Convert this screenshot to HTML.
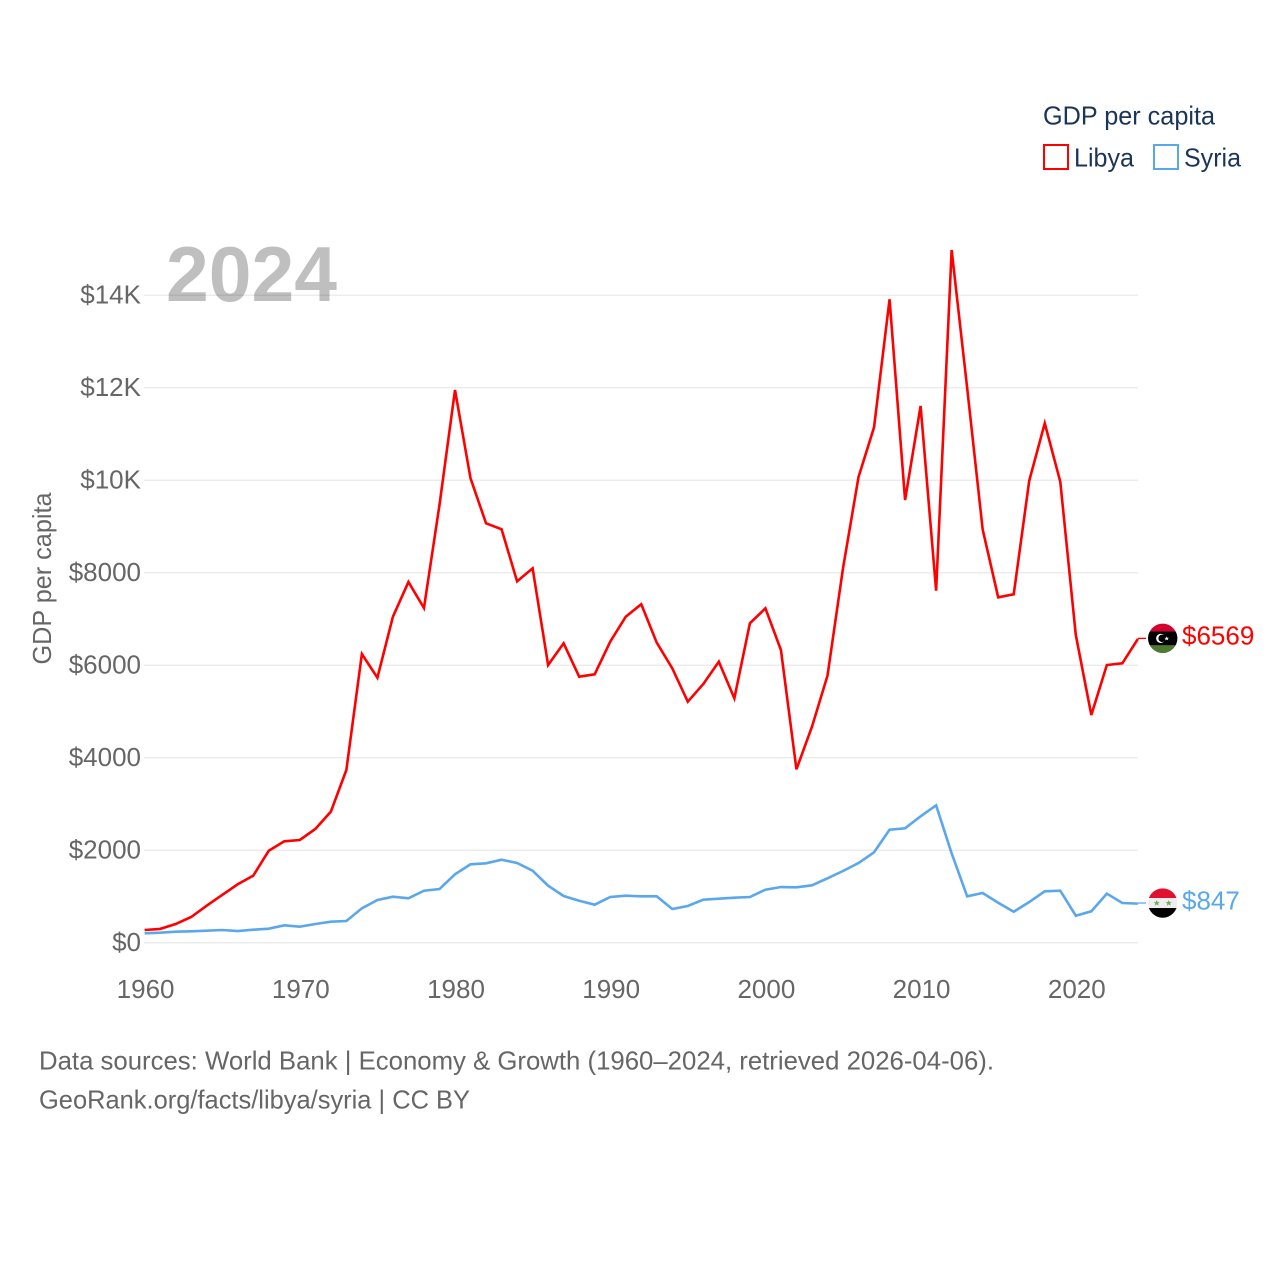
<!DOCTYPE html>
<html lang="en">
<head>
<meta charset="utf-8">
<title>GDP per capita: Libya and Syria</title>
<style>
  html, body { margin: 0; padding: 0; background: #fff; }
  svg { display: block; }
  text { font-family: "Liberation Sans", "DejaVu Sans", sans-serif; }
</style>
</head>
<body>
<svg id="chart" xmlns="http://www.w3.org/2000/svg" width="1280" height="1280" viewBox="0 0 1280 1280">
  <defs>
    <clipPath id="flag-clip"><circle cx="0" cy="0" r="14.7"></circle></clipPath>
  </defs>
  <rect x="0" y="0" width="1280" height="1280" fill="#ffffff"></rect>
  <g id="grid"></g>
  <text x="166" y="301" font-size="78" font-weight="700" fill="#000000" fill-opacity="0.25" textLength="171" lengthAdjust="spacingAndGlyphs">2024</text>
  <g id="y-labels"></g>
  <g id="x-labels"></g>
  <text transform="translate(51,578.5) rotate(-90)" text-anchor="middle" font-size="26" fill="#666666" textLength="172" lengthAdjust="spacingAndGlyphs">GDP per capita</text>
  <g id="series"></g>
  <g id="end-labels"></g>

  <g>
    <text x="1043" y="124.5" font-size="26" fill="#1a3557" textLength="172" lengthAdjust="spacingAndGlyphs">GDP per capita</text>
    <g>
      <rect x="1044" y="145" width="24" height="24" fill="#ffffff" stroke="#ff0000" stroke-width="2"></rect>
      <text x="1074" y="166.5" font-size="26" fill="#1a3557" textLength="60" lengthAdjust="spacingAndGlyphs">Libya</text>
    </g>
    <g>
      <rect x="1154" y="145" width="24" height="24" fill="#ffffff" stroke="#5ba7ec" stroke-width="2"></rect>
      <text x="1184" y="166.5" font-size="26" fill="#1a3557" textLength="57" lengthAdjust="spacingAndGlyphs">Syria</text>
    </g>
  </g>

  <text x="39" y="1069.5" font-size="26" fill="#666666" textLength="955" lengthAdjust="spacingAndGlyphs">Data sources: World Bank | Economy &amp; Growth (1960–2024, retrieved 2026-04-06).</text>
  <text x="39" y="1108.5" font-size="26" fill="#666666" textLength="431" lengthAdjust="spacingAndGlyphs">GeoRank.org/facts/libya/syria | CC BY</text>
</svg>

<script>
const startYear = 1960;
const yTickValues = [0, 2000, 4000, 6000, 8000, 10000, 12000, 14000];
const yTickLabels = ["$0", "$2000", "$4000", "$6000", "$8000", "$10K", "$12K", "$14K"];
const xTickYears = [1960, 1970, 1980, 1990, 2000, 2010, 2020];
const libyaValues = [
  277, 300, 406, 558, 802, 1034, 1265, 1451, 1991, 2195,
  2223, 2461, 2835, 3736, 6244, 5732, 7051, 7801, 7239, 9466,
  11952, 10043, 9070, 8941, 7816, 8097, 6006, 6476, 5754, 5805,
  6510, 7051, 7321, 6489, 5935, 5213, 5596, 6078, 5286, 6908,
  7232, 6331, 3751, 4672, 5775, 8097, 10071, 11146, 13914, 9574,
  11606, 7613, 14980, 11996, 8936, 7470, 7535, 9992, 11232, 9970,
  6655, 4925, 6006, 6043, 6569
];
const syriaValues = [
  205, 218, 240, 249, 262, 277, 255, 283, 305, 378,
  348, 406, 456, 471, 746, 925, 997, 962, 1126, 1163,
  1481, 1697, 1719, 1797, 1725, 1559, 1235, 1012, 910, 824,
  990, 1018, 1005, 1005, 731, 796, 932, 954, 975, 990,
  1148, 1206, 1200, 1243, 1395, 1552, 1725, 1957, 2445, 2476,
  2735, 2973, 1935, 1005, 1077, 867, 672, 882, 1114, 1127,
  586, 681, 1062, 860, 847
];

const NS = "http://www.w3.org/2000/svg";
const xScale = function (year) { return 144.6 + (year - startYear) * 15.52; };
const yScale = function (value) { return 942.8 - value * 0.04625; };

function svgEl(tag, attrs, parent) {
  const el = document.createElementNS(NS, tag);
  Object.keys(attrs).forEach(function (k) { el.setAttribute(k, attrs[k]); });
  parent.appendChild(el);
  return el;
}

const gridGroup = document.getElementById("grid");
const yLabelGroup = document.getElementById("y-labels");
const xLabelGroup = document.getElementById("x-labels");
const seriesGroup = document.getElementById("series");
const endGroup = document.getElementById("end-labels");

yTickValues.forEach(function (value, i) {
  const line = svgEl("line", { x1: 144, x2: 1138, y1: yScale(value), y2: yScale(value), stroke: "#ececec", "stroke-width": 1.5 }, gridGroup);
  
  
  const label = svgEl("text", { x: 141, y: yScale(value) + 8.1, "text-anchor": "end", "font-size": 26, fill: "#666666" }, yLabelGroup);
  label.textContent = yTickLabels[i];
  
  
});

xTickYears.forEach(function (year) {
  const label = svgEl("text", { x: xScale(year) + 1, y: 998, "text-anchor": "middle", "font-size": 26, fill: "#666666" }, xLabelGroup);
  label.textContent = String(year);
  
  
});

function toPoints(values) {
  return values.map(function (v, i) {
    return xScale(startYear + i).toFixed(2) + "," + yScale(v).toFixed(2);
  }).join(" ");
}

const syriaLine = svgEl("polyline", { points: toPoints(syriaValues), fill: "none", stroke: "#5ba7ec", "stroke-width": 2.6, "stroke-linejoin": "miter" }, seriesGroup);



const libyaLine = svgEl("polyline", { points: toPoints(libyaValues), fill: "none", stroke: "#ff0000", "stroke-width": 2.6, "stroke-linejoin": "miter" }, seriesGroup);



function band(parent, y, h, color) {
  return svgEl("rect", { x: -15, y: y, width: 30, height: h, fill: color }, parent);
}

function drawEnd(values, color) {
  const last = values[values.length - 1];
  const ly = yScale(last) - 0.6;
  const lx = xScale(startYear + values.length - 1);
  const connector = svgEl("line", { x1: lx, x2: 1146, y1: ly, y2: ly, stroke: color, "stroke-width": 1.3 }, endGroup);
  
  
  const label = svgEl("text", { x: 1182, y: ly + 6.3, "font-size": 26, fill: color }, endGroup);
  label.textContent = "$" + last;
  
  
  const flag = svgEl("g", { transform: "translate(1162.7," + ly + ")", "clip-path": "url(#flag-clip)" }, endGroup);
  return flag;
}

const libyaFlag = drawEnd(libyaValues, "#ff0000");


band(libyaFlag, -15, 8, "#d6002c");
band(libyaFlag, -7, 14, "#000000");
band(libyaFlag, 7, 8, "#4c7a30");
svgEl("circle", { cx: -2, cy: 0, r: 4.6, fill: "#ffffff" }, libyaFlag);
svgEl("circle", { cx: -0.6, cy: 0, r: 3.7, fill: "#000000" }, libyaFlag);
svgEl("polygon", { points: "4,-2 4.7,-0.5 6.3,-0.5 5,0.5 5.5,2 4,1.1 2.5,2 3,0.5 1.7,-0.5 3.3,-0.5", fill: "#ffffff" }, libyaFlag);

const syriaFlag = drawEnd(syriaValues, "#5ba7ec");


band(syriaFlag, -15, 10, "#e0102f");
band(syriaFlag, -5, 10, "#eeeeee");
band(syriaFlag, 5, 10, "#000000");
svgEl("polygon", { points: "-6,-3 -5.1,-0.9 -2.9,-0.9 -4.6,0.5 -4,2.7 -6,1.4 -8,2.7 -7.4,0.5 -9.1,-0.9 -6.9,-0.9", fill: "#74a85a" }, syriaFlag);
svgEl("polygon", { points: "6,-3 6.9,-0.9 9.1,-0.9 7.4,0.5 8,2.7 6,1.4 4,2.7 4.6,0.5 2.9,-0.9 5.1,-0.9", fill: "#74a85a" }, syriaFlag);
</script>
</body>
</html>
